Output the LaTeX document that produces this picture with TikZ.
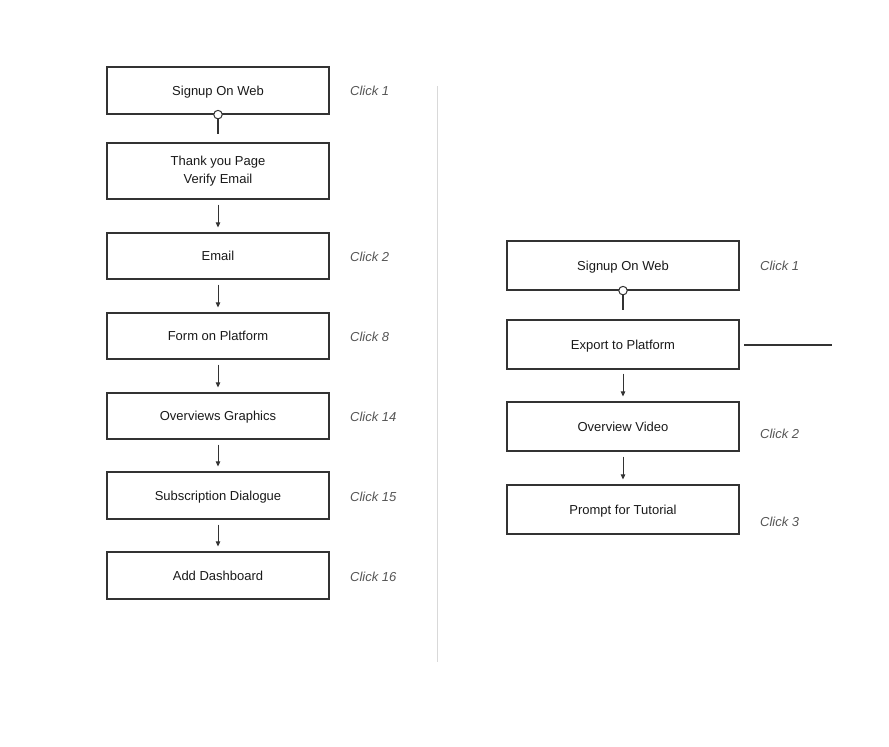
\documentclass[tikz,border=0pt]{standalone}
\usepackage{fontspec}
\setmainfont{Liberation Sans}
\usetikzlibrary{arrows.meta}
\definecolor{boxline}{HTML}{333333}
\definecolor{clickgray}{HTML}{555555}
\begin{document}
\begin{tikzpicture}[x=1pt,y=-1pt,
  fboxbase/.style={draw=boxline,line width=1.2pt,minimum width=222pt,inner sep=0pt,align=center,font=\fontsize{13}{18}\selectfont,text=black!90},
  fbox/.style={fboxbase,text height=9.5pt,text depth=0pt},
  fboxr/.style={fbox,minimum width=232pt},
  clk/.style={anchor=west,inner sep=0pt,text height=9.5pt,text depth=0pt,font=\fontsize{13}{15}\selectfont\itshape,text=clickgray},
  arr/.style={draw=boxline,line width=1pt,-{Triangle[length=5pt,width=4.5pt]}},
  lnk/.style={draw=boxline,line width=1.2pt},
  dot/.style={circle,draw=boxline,fill=white,line width=1pt,minimum size=8.5pt,inner sep=0pt}]
\useasboundingbox (0,0) rectangle (889,747);
% left column
\node[fbox,minimum height=47pt] (l1) at (218,90.5) {Signup On Web};
\node[fboxbase,minimum height=56pt] (l2) at (218,171) {Thank you Page\\Verify Email};
\node[fbox,minimum height=46pt] (l3) at (218,256) {Email};
\node[fbox,minimum height=46pt] (l4) at (218,336) {Form on Platform};
\node[fbox,minimum height=46pt] (l5) at (218,416) {Overviews Graphics};
\node[fbox,minimum height=47pt] (l6) at (218,495.5) {Subscription Dialogue};
\node[fbox,minimum height=47pt] (l7) at (218,575.5) {Add Dashboard};
\node[clk] (c1) at (350,91) {Click 1};
\node[clk] (c2) at (350,257) {Click 2};
\node[clk] (c8) at (350,337) {Click 8};
\node[clk] (c14) at (350,417) {Click 14};
\node[clk] (c15) at (350,497) {Click 15};
\node[clk] (c16) at (350,577) {Click 16};
\node[dot] (d1) at (l1.south) {};
\coordinate (e1) at (218,134);
\draw[lnk] (d1.south) -- (e1);
\draw[arr] ([yshift=-5pt]l2.south) -- ([yshift=5pt]l3.north);
\draw[arr] ([yshift=-5pt]l3.south) -- ([yshift=5pt]l4.north);
\draw[arr] ([yshift=-5pt]l4.south) -- ([yshift=5pt]l5.north);
\draw[arr] ([yshift=-5pt]l5.south) -- ([yshift=5pt]l6.north);
\draw[arr] ([yshift=-5pt]l6.south) -- ([yshift=5pt]l7.north);
% divider
\coordinate (v1) at (437,86);
\coordinate (v2) at (437,662);
\draw[black!15,line width=0.8pt] (v1) -- (v2);
% right column
\node[fboxr,minimum height=49pt] (r1) at (623,265.5) {Signup On Web};
\node[fboxr,minimum height=49pt] (r2) at (623,344.5) {Export to Platform};
\node[fboxr,minimum height=49pt] (r3) at (623,426.5) {Overview Video};
\node[fboxr,minimum height=49pt] (r4) at (623,509.5) {Prompt for Tutorial};
\node[clk] (rc1) at (760,266) {Click 1};
\node[clk] (rc2) at (760,434) {Click 2};
\node[clk] (rc3) at (760,522) {Click 3};
\node[dot] (d2) at (r1.south) {};
\coordinate (e2) at (623,310);
\draw[lnk] (d2.south) -- (e2);
\coordinate (h1) at (744,345);
\coordinate (h2) at (832,345);
\draw[lnk] (h1) -- (h2);
\draw[arr] ([yshift=-4pt]r2.south) -- ([yshift=5pt]r3.north);
\draw[arr] ([yshift=-5pt]r3.south) -- ([yshift=5pt]r4.north);
\end{tikzpicture}
\end{document}
